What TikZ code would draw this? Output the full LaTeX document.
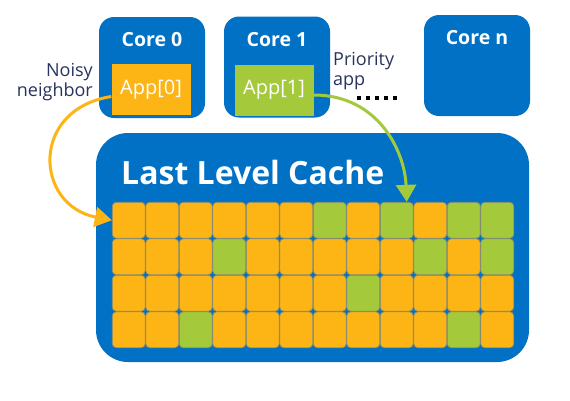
\documentclass[tikz,border=0pt]{standalone}
\usepackage{fontspec}
\setmainfont{Open Sans}
\usetikzlibrary{arrows.meta,positioning}
\definecolor{intelblue}{RGB}{0,113,197}
\definecolor{llcorange}{RGB}{253,181,21}
\definecolor{llcgreen}{RGB}{164,201,58}
\definecolor{labelnavy}{RGB}{40,52,92}
\definecolor{cellline}{RGB}{140,140,110}
\colorlet{cell0}{llcorange}
\colorlet{cell1}{llcgreen}

\begin{document}
\begin{tikzpicture}[x=1pt,y=-1pt]
\tikzstyle corebox=[fill=intelblue,rounded corners=15pt,minimum width=106pt,minimum height=101pt,inner sep=0pt]
\tikzstyle corelabel=[text=white,font=\bfseries\fontsize{19.5}{22}\selectfont,inner sep=0pt]
\tikzstyle appbox=[minimum width=79pt,minimum height=51pt,inner sep=0pt,text=white,font=\fontsize{20}{22}\selectfont]
\tikzstyle note=[text=labelnavy,font=\fontsize{18}{20}\selectfont,inner sep=0pt]
\tikzstyle cell=[draw=cellline,line width=0.8pt,rounded corners=4pt,minimum width=33pt,minimum height=36pt,inner sep=0pt]
\tikzstyle arrowline=[line width=3pt,-{Triangle[length=17pt,width=20pt]}]

\useasboundingbox (0,0) rectangle (570,400);

% cores
\node[corebox] (core0) at (152,67.5) {};
\node[corebox] (core1) at (277,67) {};
\node[corebox] (coren) at (477,65.5) {};
\node[corelabel,anchor=base] (lab0) at ([yshift=-30pt]core0.north) {Core 0};
\node[corelabel,anchor=base] (lab1) at ([yshift=-30pt]core1.north) {Core 1};
\node[corelabel,anchor=base] (labn) at ([yshift=-30pt]coren.north) {Core n};
\node[appbox,fill=llcorange] (app0) at (151,89.5) {App[0]};
\node[appbox,fill=llcgreen] (app1) at (274,90) {App[1]};

% side notes
\node[note,align=right,anchor=east] (noisy) at (93,82) {Noisy\\neighbor};
\node[note,align=left,anchor=north west] (prio) at (333,52) {Priority\\app};
\coordinate (dotsA) at (357,98);
\coordinate (dotsB) at (401,98);
\draw[line width=4pt,dash pattern=on 4pt off 5pt] (dotsA) -- (dotsB);

% last level cache
\node[fill=intelblue,rounded corners=32pt,minimum width=433pt,minimum height=229pt,inner sep=0pt] (llc) at (312.5,247.5) {};
\node[anchor=base west,text=white,font=\bfseries\fontsize{32}{38}\selectfont,inner sep=0pt] (llctext) at (121,184) {Last Level Cache};
\foreach \row [count=\r] in {{0,0,0,0,0,0,1,0,1,0,1,1},{0,0,0,1,0,0,0,0,0,1,0,1},{0,0,0,0,0,0,0,1,0,0,0,0},{0,0,1,0,0,0,0,0,0,0,1,0}}
  \foreach \g [count=\c] in \row
    \node[cell,fill=cell\g] (c\r-\c) at (95.25+33.5*\c,183.75+36.5*\r) {};

% arrows
\draw[arrowline,llcorange] ([yshift=-7pt]app0.west) .. controls +(-82,13) and +(-77,-15) .. (c1-1.west);
\draw[arrowline,llcgreen] ([yshift=-5pt]app1.east) .. controls +(65,0) and +(-2,-50) .. ([xshift=10pt]c1-9.north);
\end{tikzpicture}
\end{document}
